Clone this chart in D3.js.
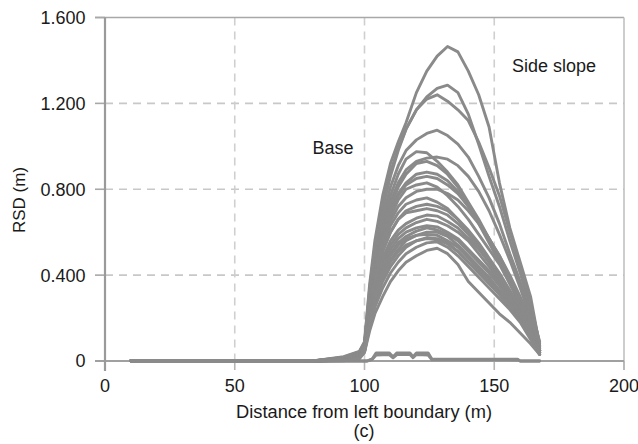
<!DOCTYPE html>
<html>
<head>
<meta charset="utf-8">
<script src="https://cdn.jsdelivr.net/npm/d3@7/dist/d3.min.js"></script>
<style>
  html, body { margin: 0; padding: 0; background: #fff; }
  svg { display: block; }
  text { font-family: "Liberation Sans", Arial, sans-serif; fill: #1a1a1a; }
</style>
</head>
<body>
<svg id="chart" width="638" height="444"></svg>
<script>
// Distance from left boundary (m) where each RSD profile is sampled
const distance = [10, 80, 92, 98, 100, 102, 104, 107, 110, 113, 116, 120, 124, 128, 132, 136, 140, 144, 148, 152, 156, 160, 164, 167.5];

// Residual settlement difference profiles (m), one per analysed case
const rsdProfiles = [
  [0, 0, 0.020, 0.045, 0.09, 0.36, 0.56, 0.77, 0.92, 1.02, 1.11, 1.25, 1.35, 1.42, 1.465, 1.44, 1.35, 1.24, 1.09, 0.83, 0.62, 0.46, 0.30, 0.07],
  [0, 0, 0.018, 0.042, 0.085, 0.34, 0.53, 0.73, 0.88, 0.99, 1.08, 1.17, 1.23, 1.27, 1.285, 1.25, 1.15, 1.01, 0.86, 0.72, 0.56, 0.41, 0.25, 0.09],
  [0, 0, 0.016, 0.040, 0.08, 0.32, 0.51, 0.71, 0.86, 0.98, 1.08, 1.17, 1.22, 1.24, 1.21, 1.17, 1.12, 1.02, 0.90, 0.77, 0.60, 0.44, 0.27, 0.08],
  [0, 0, 0.015, 0.038, 0.08, 0.30, 0.48, 0.67, 0.81, 0.91, 0.98, 1.03, 1.06, 1.075, 1.05, 1.01, 0.95, 0.86, 0.76, 0.64, 0.50, 0.37, 0.22, 0.06],
  [0, 0, 0.014, 0.036, 0.075, 0.29, 0.46, 0.64, 0.77, 0.87, 0.94, 0.975, 0.97, 0.93, 0.88, 0.82, 0.74, 0.66, 0.57, 0.48, 0.38, 0.27, 0.16, 0.05],
  [0, 0, 0.013, 0.034, 0.075, 0.28, 0.45, 0.62, 0.74, 0.83, 0.89, 0.93, 0.945, 0.95, 0.94, 0.91, 0.86, 0.79, 0.70, 0.59, 0.47, 0.34, 0.20, 0.07],
  [0, 0, 0.012, 0.032, 0.07, 0.27, 0.44, 0.61, 0.72, 0.81, 0.87, 0.92, 0.93, 0.91, 0.87, 0.81, 0.73, 0.64, 0.55, 0.46, 0.36, 0.26, 0.15, 0.05],
  [0, 0, 0.011, 0.030, 0.07, 0.26, 0.43, 0.59, 0.70, 0.78, 0.83, 0.87, 0.88, 0.87, 0.84, 0.79, 0.72, 0.65, 0.57, 0.48, 0.38, 0.28, 0.17, 0.06],
  [0, 0, 0.011, 0.029, 0.068, 0.25, 0.42, 0.58, 0.69, 0.77, 0.82, 0.85, 0.86, 0.85, 0.82, 0.78, 0.72, 0.65, 0.57, 0.49, 0.39, 0.29, 0.18, 0.06],
  [0, 0, 0.010, 0.028, 0.065, 0.25, 0.41, 0.57, 0.67, 0.75, 0.80, 0.82, 0.83, 0.81, 0.77, 0.72, 0.66, 0.59, 0.52, 0.45, 0.36, 0.27, 0.17, 0.05],
  [0, 0, 0.009, 0.026, 0.065, 0.24, 0.40, 0.55, 0.65, 0.72, 0.76, 0.79, 0.80, 0.80, 0.78, 0.75, 0.70, 0.64, 0.57, 0.49, 0.40, 0.30, 0.19, 0.07],
  [0, 0, 0.008, 0.024, 0.06, 0.23, 0.39, 0.53, 0.63, 0.69, 0.73, 0.75, 0.76, 0.74, 0.71, 0.66, 0.60, 0.54, 0.47, 0.40, 0.32, 0.24, 0.15, 0.05],
  [0, 0, 0.008, 0.023, 0.06, 0.22, 0.37, 0.51, 0.60, 0.66, 0.70, 0.72, 0.73, 0.72, 0.70, 0.66, 0.61, 0.55, 0.48, 0.41, 0.33, 0.25, 0.16, 0.05],
  [0, 0, 0.007, 0.022, 0.06, 0.22, 0.37, 0.51, 0.60, 0.66, 0.69, 0.70, 0.71, 0.70, 0.68, 0.64, 0.59, 0.53, 0.46, 0.39, 0.31, 0.23, 0.14, 0.04],
  [0, 0, 0.007, 0.021, 0.058, 0.21, 0.35, 0.48, 0.56, 0.61, 0.64, 0.665, 0.68, 0.675, 0.65, 0.62, 0.57, 0.52, 0.46, 0.39, 0.32, 0.24, 0.15, 0.05],
  [0, 0, 0.006, 0.020, 0.055, 0.20, 0.33, 0.46, 0.54, 0.59, 0.62, 0.645, 0.66, 0.65, 0.63, 0.60, 0.56, 0.50, 0.44, 0.37, 0.30, 0.22, 0.14, 0.05],
  [0, 0, 0.006, 0.019, 0.052, 0.20, 0.32, 0.44, 0.52, 0.57, 0.60, 0.62, 0.63, 0.625, 0.60, 0.57, 0.52, 0.47, 0.42, 0.36, 0.29, 0.22, 0.14, 0.05],
  [0, 0, 0.005, 0.018, 0.05, 0.19, 0.31, 0.43, 0.50, 0.55, 0.58, 0.605, 0.62, 0.61, 0.59, 0.56, 0.51, 0.46, 0.41, 0.35, 0.28, 0.21, 0.13, 0.04],
  [0, 0, 0.004, 0.016, 0.05, 0.18, 0.29, 0.40, 0.47, 0.52, 0.56, 0.585, 0.60, 0.60, 0.58, 0.54, 0.49, 0.44, 0.39, 0.33, 0.27, 0.20, 0.12, 0.04],
  [0, 0, 0.004, 0.015, 0.048, 0.18, 0.30, 0.41, 0.49, 0.54, 0.57, 0.585, 0.59, 0.585, 0.56, 0.53, 0.48, 0.43, 0.38, 0.32, 0.26, 0.20, 0.12, 0.04],
  [0, 0, 0.003, 0.014, 0.045, 0.17, 0.27, 0.37, 0.44, 0.49, 0.53, 0.56, 0.575, 0.57, 0.55, 0.51, 0.46, 0.41, 0.36, 0.31, 0.25, 0.19, 0.11, 0.03],
  [0, 0, 0.003, 0.013, 0.043, 0.17, 0.28, 0.39, 0.46, 0.51, 0.54, 0.56, 0.57, 0.565, 0.545, 0.51, 0.46, 0.42, 0.37, 0.31, 0.25, 0.19, 0.11, 0.04],
  [0, 0, 0.002, 0.012, 0.04, 0.16, 0.25, 0.34, 0.41, 0.46, 0.50, 0.53, 0.55, 0.555, 0.53, 0.49, 0.44, 0.39, 0.34, 0.29, 0.24, 0.18, 0.10, 0.03],
  [0, 0, 0.001, 0.010, 0.04, 0.14, 0.22, 0.30, 0.37, 0.42, 0.46, 0.49, 0.515, 0.525, 0.50, 0.45, 0.37, 0.32, 0.27, 0.22, 0.18, 0.13, 0.08, 0.03]
];

// Cases with almost no settlement difference along the section
const flatDistance = [10, 101, 103, 104.5, 109.5, 111, 112.5, 117.5, 118.7, 120, 124.5, 126, 159, 160, 167.5];
const flatRsdA = [0, 0, 0.01, 0.038, 0.038, 0.02, 0.038, 0.038, 0.02, 0.038, 0.038, 0.008, 0.008, 0, 0];
const flatRsdB = [0, 0, 0.008, 0.028, 0.03, 0.015, 0.03, 0.03, 0.015, 0.03, 0.028, 0.006, 0.005, 0, 0];

const xTicks = [0, 50, 100, 150, 200];
const xTickLabels = ["0", "50", "100", "150", "200"];
const yTicks = [0, 0.4, 0.8, 1.2, 1.6];
const yTickLabels = ["0", "0.400", "0.800", "1.200", "1.600"];

const svg = d3.select("#chart");
const plotLeft = 105, plotRight = 624, plotTop = 17.5, plotBottom = 361;

const x = d3.scaleLinear().domain([0, 200]).range([plotLeft, plotRight]);
const y = d3.scaleLinear().domain([0, 1.6]).range([plotBottom, plotTop]);

// Dashed grid
const grid = svg.append("g");
grid.selectAll(".hgrid").data(yTicks.filter(v => v > 0 && v < 1.6)).join("line")
  .attr("x1", plotLeft).attr("x2", plotRight)
  .attr("y1", d => y(d)).attr("y2", d => y(d))
  .attr("stroke", "#c8c8c8").attr("stroke-width", 1.6).attr("stroke-dasharray", "8,6");
grid.selectAll(".vgrid").data(xTicks.filter(v => v > 0 && v < 200)).join("line")
  .attr("x1", d => x(d)).attr("x2", d => x(d))
  .attr("y1", plotTop).attr("y2", plotBottom)
  .attr("stroke", "#cfcfcf").attr("stroke-width", 1.6).attr("stroke-dasharray", "8,6");

// Frame: top and right borders
svg.append("line").attr("x1", plotLeft - 10).attr("x2", plotRight).attr("y1", y(1.6)).attr("y2", y(1.6))
  .attr("stroke", "#a8a8a8").attr("stroke-width", 1.5);
svg.append("line").attr("x1", plotRight).attr("x2", plotRight).attr("y1", plotTop).attr("y2", plotBottom + 9)
  .attr("stroke", "#bdbdbd").attr("stroke-width", 1.5);

// Tick marks
svg.selectAll(".ytick").data(yTicks).join("line")
  .attr("x1", plotLeft - 10).attr("x2", plotLeft)
  .attr("y1", d => y(d)).attr("y2", d => y(d))
  .attr("stroke", "#a8a8a8").attr("stroke-width", 1.6);
svg.selectAll(".xtick").data(xTicks).join("line")
  .attr("x1", d => x(d)).attr("x2", d => x(d))
  .attr("y1", plotBottom).attr("y2", plotBottom + 9)
  .attr("stroke", "#b5b5b5").attr("stroke-width", 1.6);

// Axis lines
svg.append("line").attr("x1", plotLeft - 10).attr("x2", plotRight).attr("y1", plotBottom).attr("y2", plotBottom)
  .attr("stroke", "#a0a0a0").attr("stroke-width", 1.8);
svg.append("line").attr("x1", plotLeft).attr("x2", plotLeft).attr("y1", plotTop).attr("y2", plotBottom + 10)
  .attr("stroke", "#9a9a9a").attr("stroke-width", 2.2);

// Profiles
const line = d3.line().x(d => x(d[0])).y(d => y(d[1])).curve(d3.curveLinear);
const curves = svg.append("g").attr("fill", "none").attr("stroke", "#8a8a8a")
  .attr("stroke-width", 2.9).attr("stroke-linejoin", "round").attr("stroke-linecap", "round");
[flatRsdA, flatRsdB].forEach(vals => {
  curves.append("path").attr("d", line(flatDistance.map((d, i) => [d, vals[i]])));
});
rsdProfiles.forEach(vals => {
  curves.append("path").attr("d", line(distance.map((d, i) => [d, vals[i]])));
});

// Tick labels
svg.selectAll(".ylab").data(yTicks).join("text")
  .attr("x", plotLeft - 19.5).attr("y", d => y(d)).attr("dy", "0.36em")
  .attr("text-anchor", "end").attr("font-size", 18)
  .text((d, i) => yTickLabels[i]);
svg.selectAll(".xlab").data(xTicks).join("text")
  .attr("x", d => x(d)).attr("y", 392)
  .attr("text-anchor", "middle").attr("font-size", 18)
  .text((d, i) => xTickLabels[i]);

// Axis titles
svg.append("text").attr("x", 364).attr("y", 418).attr("text-anchor", "middle")
  .attr("font-size", 18.3).text("Distance from left boundary (m)");
svg.append("text").attr("x", 364).attr("y", 437).attr("text-anchor", "middle")
  .attr("font-size", 18).text("(c)");
svg.append("text").attr("transform", "translate(25,200) rotate(-90)")
  .attr("text-anchor", "middle").attr("font-size", 17).text("RSD (m)");

// Region annotations
svg.append("text").attr("x", 312.5).attr("y", 154).attr("font-size", 18).text("Base");
svg.append("text").attr("x", 512).attr("y", 71.5).attr("font-size", 18).text("Side slope");
</script>
</body>
</html>
